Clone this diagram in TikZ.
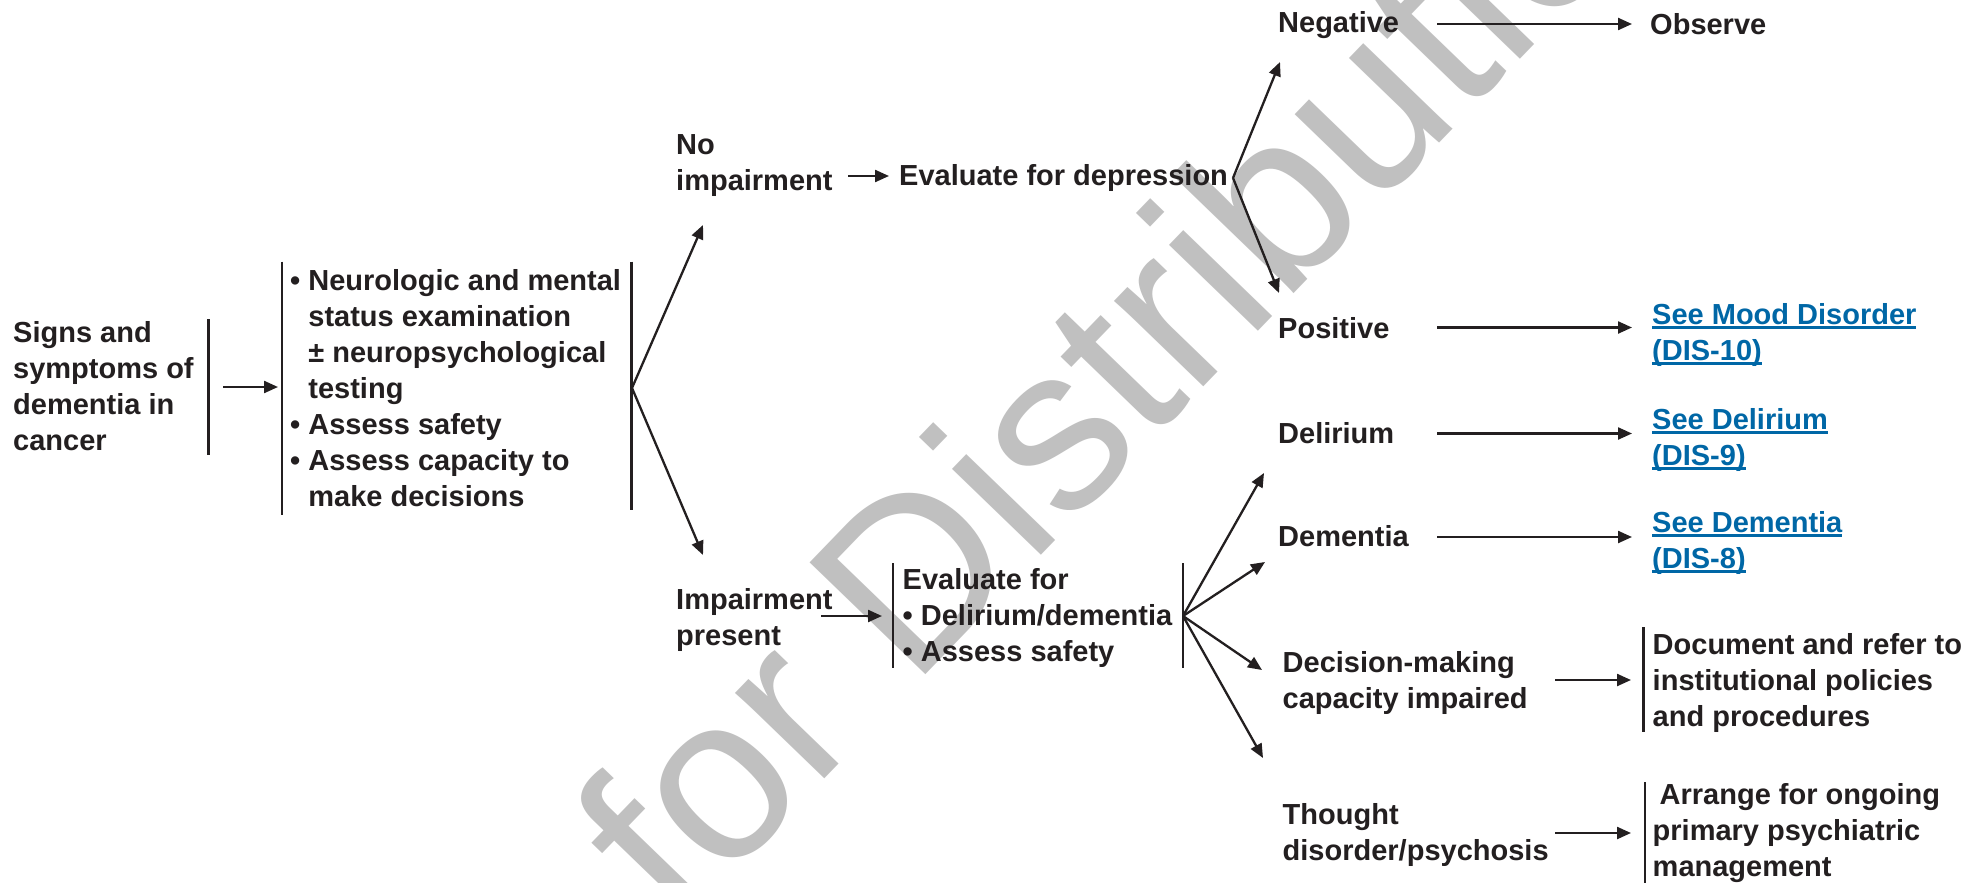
\documentclass[tikz,border=0pt]{standalone}
\usepackage{fontspec}
\setmainfont{Liberation Sans}
\usetikzlibrary{arrows.meta}
\definecolor{ink}{HTML}{231F20}
\definecolor{linkblue}{RGB}{0,103,166}
\definecolor{wmgray}{RGB}{192,192,192}
\newcommand\lnk[1]{\setbox0\hbox{#1}\rlap{\rule[-4.5pt]{\wd0}{2.2pt}}\box0}
\newcommand\bul{•\ }
\newcommand\ind{\hphantom{•\ }}
\begin{document}
\begin{tikzpicture}[x=1pt,y=-1pt,
  txt/.style={font=\bfseries\fontsize{29}{36}\selectfont, text=ink, inner sep=0pt, align=left, anchor=base west},
  lnktxt/.style={txt, text=linkblue},
  ln/.style={draw=ink, line width=2.3pt},
  arr/.style={ln, -{Triangle[length=14pt,width=12pt]}}]
\path[use as bounding box, fill=white] (0,0) rectangle (1984,883);
\clip (0,0) rectangle (1984,883);

% watermark
\node[font=\fontsize{234}{234}\selectfont, text=wmgray, inner sep=0pt, anchor=base west, rotate=46] (wm) at (380,1240) {Not for Distribution};

% column 1 (base = baseline of last line)
\node[txt] (signs) at (13,450) {Signs and\\symptoms of\\dementia in\\cancer};
\coordinate (s1t) at (208.5,319); \coordinate (s1b) at (208.5,455);
\draw[ln] (s1t) -- (s1b);
\coordinate (a1s) at (223,387); \coordinate (a1e) at (278,387);
\draw[arr] (a1s) -- (a1e);

\coordinate (l1t) at (282,261.5); \coordinate (l1b) at (282,515);
\draw[ln] (l1t) -- (l1b);
\node[txt] (exam) at (290,506.7) {\bul Neurologic and mental\\\ind status examination\\\ind ± neuropsychological\\\ind testing\\\bul Assess safety\\\bul Assess capacity to\\\ind make decisions};
\coordinate (r1t) at (631.5,261.5); \coordinate (r1b) at (631.5,510);
\draw[ln] (r1t) -- (r1b);
\coordinate (j1) at (632,388);
\coordinate (t1u) at (703,225); \coordinate (t1d) at (703,555);
\draw[arr] (j1) -- (t1u);
\draw[arr] (j1) -- (t1d);

% no impairment branch
\node[txt] (noimp) at (676,190) {No\\impairment};
\coordinate (a2s) at (848,176); \coordinate (a2e) at (889,176);
\draw[arr] (a2s) -- (a2e);
\node[txt] (evaldep) at (899,185) {Evaluate for depression};
\coordinate (j2) at (1233,178);
\coordinate (t2u) at (1280,62); \coordinate (t2d) at (1279,293);
\draw[arr] (j2) -- (t2u);
\draw[arr] (j2) -- (t2d);

\node[txt] (neg) at (1278,32.7) {Negative};
\coordinate (a3s) at (1437,24); \coordinate (a3e) at (1632,24);
\draw[arr] (a3s) -- (a3e);
\node[txt] (obs) at (1650,35) {Observe};

\node[txt] (pos) at (1278,338) {Positive};
\coordinate (a4s) at (1437,327.5); \coordinate (a4e) at (1632,327.5);
\draw[arr] (a4s) -- (a4e);
\node[lnktxt] (mood) at (1652,360) {\lnk{See Mood Disorder}\\\lnk{(DIS-10)}};

% impairment branch
\node[txt] (imp) at (676,645) {Impairment\\present};
\coordinate (a5s) at (821,616); \coordinate (a5e) at (882,616);
\draw[arr] (a5s) -- (a5e);
\coordinate (l2t) at (892.8,563); \coordinate (l2b) at (892.8,668);
\draw[ln] (l2t) -- (l2b);
\node[txt] (evalfor) at (902.5,661.7) {Evaluate for\\\bul Delirium/dementia\\\bul Assess safety};
\coordinate (r2t) at (1182.7,563); \coordinate (r2b) at (1182.7,668);
\draw[ln] (r2t) -- (r2b);
\coordinate (j3) at (1183,616);
\coordinate (t3a) at (1264,473); \coordinate (t3b) at (1265,562);
\coordinate (t3c) at (1262,670); \coordinate (t3d) at (1263,758);
\draw[arr] (j3) -- (t3a);
\draw[arr] (j3) -- (t3b);
\draw[arr] (j3) -- (t3c);
\draw[arr] (j3) -- (t3d);

\node[txt] (del) at (1278,443) {Delirium};
\coordinate (a6s) at (1437,433.5); \coordinate (a6e) at (1632,433.5);
\draw[arr] (a6s) -- (a6e);
\node[lnktxt] (dellink) at (1652,465) {\lnk{See Delirium}\\\lnk{(DIS-9)}};

\node[txt] (dem) at (1278,546.7) {Dementia};
\coordinate (a7s) at (1437,537); \coordinate (a7e) at (1632,537);
\draw[arr] (a7s) -- (a7e);
\node[lnktxt] (demlink) at (1652,568) {\lnk{See Dementia}\\\lnk{(DIS-8)}};

\node[txt] (dec) at (1282.5,708) {Decision-making\\capacity impaired};
\coordinate (a8s) at (1555,680); \coordinate (a8e) at (1631,680);
\draw[arr] (a8s) -- (a8e);
\coordinate (l3t) at (1643.5,627); \coordinate (l3b) at (1643.5,732);
\draw[ln] (l3t) -- (l3b);
\node[txt] (doc) at (1652.5,726.7) {Document and refer to\\institutional policies\\and procedures};

\node[txt] (tho) at (1282.5,860) {Thought\\disorder/psychosis};
\coordinate (a9s) at (1555,833); \coordinate (a9e) at (1631,833);
\draw[arr] (a9s) -- (a9e);
\coordinate (l4t) at (1645,782); \coordinate (l4b) at (1645,883);
\draw[ln] (l4t) -- (l4b);
\node[txt] (arrange) at (1652.5,876.7) {\hspace{7pt}Arrange for ongoing\\primary psychiatric\\management};
\end{tikzpicture}
\end{document}
